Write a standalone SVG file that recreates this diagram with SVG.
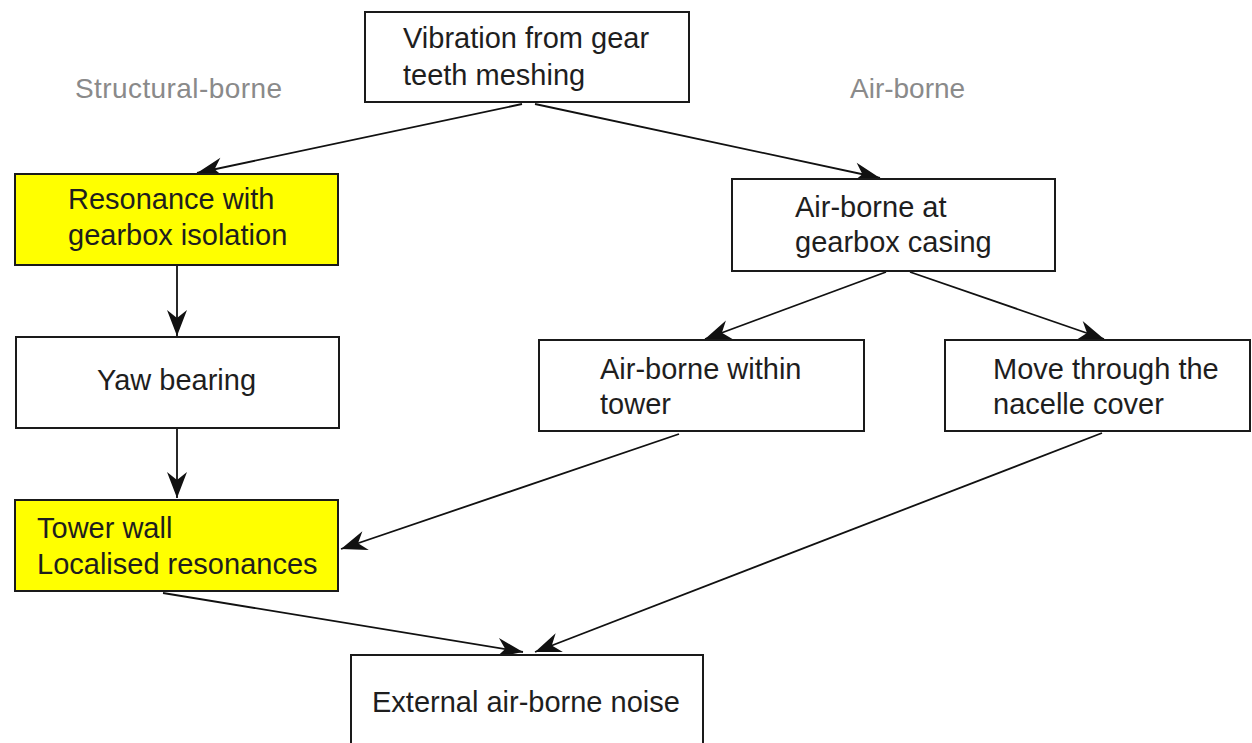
<svg xmlns="http://www.w3.org/2000/svg" width="1252" height="743" viewBox="0 0 1252 743">
<style>
.box{fill:#fff;stroke:#1a1a1a;stroke-width:2}
.hl{fill:#ffff00;stroke:#1a1a1a;stroke-width:2}
.t{font-family:"Liberation Sans",Arial,sans-serif;font-size:29px;fill:#1e1e1e}
.lbl{font-family:"Liberation Sans",Arial,sans-serif;font-size:28px;fill:#8a8a8a}
.c{fill:none;stroke:#111;stroke-width:1.8;marker-end:url(#ah)}
</style>
<defs>
<marker id="ah" markerUnits="userSpaceOnUse" viewBox="-28 -12 30 24" refX="0" refY="0" markerWidth="30" markerHeight="24" orient="auto">
<path d="M0,0 L-26,-10 L-18,0 L-26,10 Z" fill="#111"/>
</marker>
</defs>
<rect width="1252" height="743" fill="#fff"/>
<text class="lbl" x="75" y="98" textLength="207">Structural-borne</text>
<text class="lbl" x="850" y="98">Air-borne</text>
<g id="connectors">
<line class="c" x1="522" y1="104" x2="197" y2="173"/>
<line class="c" x1="535" y1="104" x2="880" y2="178"/>
<line class="c" x1="177" y1="266" x2="177" y2="336"/>
<line class="c" x1="177" y1="429" x2="177" y2="498"/>
<line class="c" x1="886" y1="272" x2="705" y2="339"/>
<line class="c" x1="910" y1="272" x2="1104" y2="339"/>
<line class="c" x1="679" y1="434" x2="341" y2="549"/>
<line class="c" x1="1102" y1="433" x2="535" y2="652"/>
<line class="c" x1="163" y1="593" x2="523" y2="652"/>
</g>
<g id="n-vibration">
<rect class="box" x="365" y="12" width="324" height="90"/>
<text class="t" x="403" y="48">Vibration from gear</text>
<text class="t" x="403" y="85">teeth meshing</text>
</g>
<g id="n-resonance">
<rect class="hl" x="15" y="174" width="323" height="91"/>
<text class="t" x="68" y="209">Resonance with</text>
<text class="t" x="68" y="245">gearbox isolation</text>
</g>
<g id="n-yaw">
<rect class="box" x="16" y="337" width="323" height="91"/>
<text class="t" x="97" y="390">Yaw bearing</text>
</g>
<g id="n-towerwall">
<rect class="hl" x="15" y="500" width="323" height="91"/>
<text class="t" x="37" y="538">Tower wall</text>
<text class="t" x="37" y="574">Localised resonances</text>
</g>
<g id="n-casing">
<rect class="box" x="732" y="179" width="323" height="92"/>
<text class="t" x="795" y="217">Air-borne at</text>
<text class="t" x="795" y="252">gearbox casing</text>
</g>
<g id="n-within">
<rect class="box" x="539" y="340" width="325" height="91"/>
<text class="t" x="600" y="379">Air-borne within</text>
<text class="t" x="600" y="414">tower</text>
</g>
<g id="n-nacelle">
<rect class="box" x="945" y="340" width="305" height="91"/>
<text class="t" x="993" y="379">Move through the</text>
<text class="t" x="993" y="414">nacelle cover</text>
</g>
<g id="n-external">
<rect class="box" x="351" y="655" width="352" height="100"/>
<text class="t" x="372" y="712">External air-borne noise</text>
</g>
</svg>
